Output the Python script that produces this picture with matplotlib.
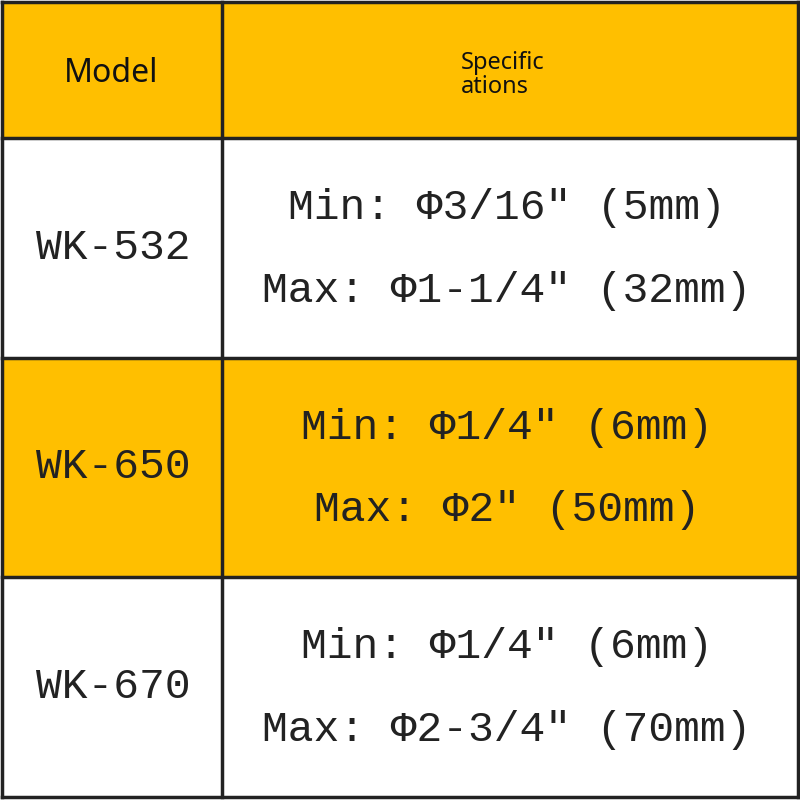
import matplotlib
matplotlib.use("Agg")
import matplotlib.pyplot as plt
from matplotlib.patches import Rectangle

models = ["WK-532", "WK-650", "WK-670"]
spec_min = ["Min: Φ3/16″ (5mm)", "Min: Φ1/4″ (6mm)", "Min: Φ1/4″ (6mm)"]
spec_max = ["Max: Φ1-1/4″ (32mm)", "Max: Φ2″ (50mm)", "Max: Φ2-3/4″ (70mm)"]
header = ["Model", "Specific\nations"]

ORANGE = "#FFBF00"
fig = plt.figure(figsize=(8, 8), dpi=100)
ax = fig.add_axes([0, 0, 1, 1])
ax.set_xlim(0, 800); ax.set_ylim(800, 0); ax.axis("off")

rows = [2, 138, 358, 577, 797]
xs = [2, 222, 798]
fills = [ORANGE, "white", ORANGE, "white"]
for i in range(4):
    ax.add_patch(Rectangle((xs[0], rows[i]), xs[2]-xs[0], rows[i+1]-rows[i],
                           facecolor=fills[i], edgecolor="none"))
for y in rows:
    ax.plot([xs[0], xs[2]], [y, y], color="#222", lw=2.5)
for x in xs:
    ax.plot([x, x], [rows[0], rows[-1]], color="#222", lw=2.5)

ax.text(111, 74, header[0], ha="center", va="center", fontsize=23, family="Noto Sans", color="#111")
ax.text(461, 75, header[1], ha="left", va="center", fontsize=17, family="Noto Sans", color="#111", linespacing=1.0)

mono = ["Liberation Mono", "DejaVu Sans Mono"]
for i, m in enumerate(models):
    y0, y1 = rows[i+1], rows[i+2]
    yc = (y0 + y1) / 2
    ax.text(113, yc, m, ha="center", va="center", fontsize=31, family=mono, color="#222")
    ax.text(507, yc - 40, spec_min[i], ha="center", va="center", fontsize=31, family=mono, color="#222")
    ax.text(507, yc + 43, spec_max[i], ha="center", va="center", fontsize=31, family=mono, color="#222")

fig.savefig("out.png", dpi=100)
